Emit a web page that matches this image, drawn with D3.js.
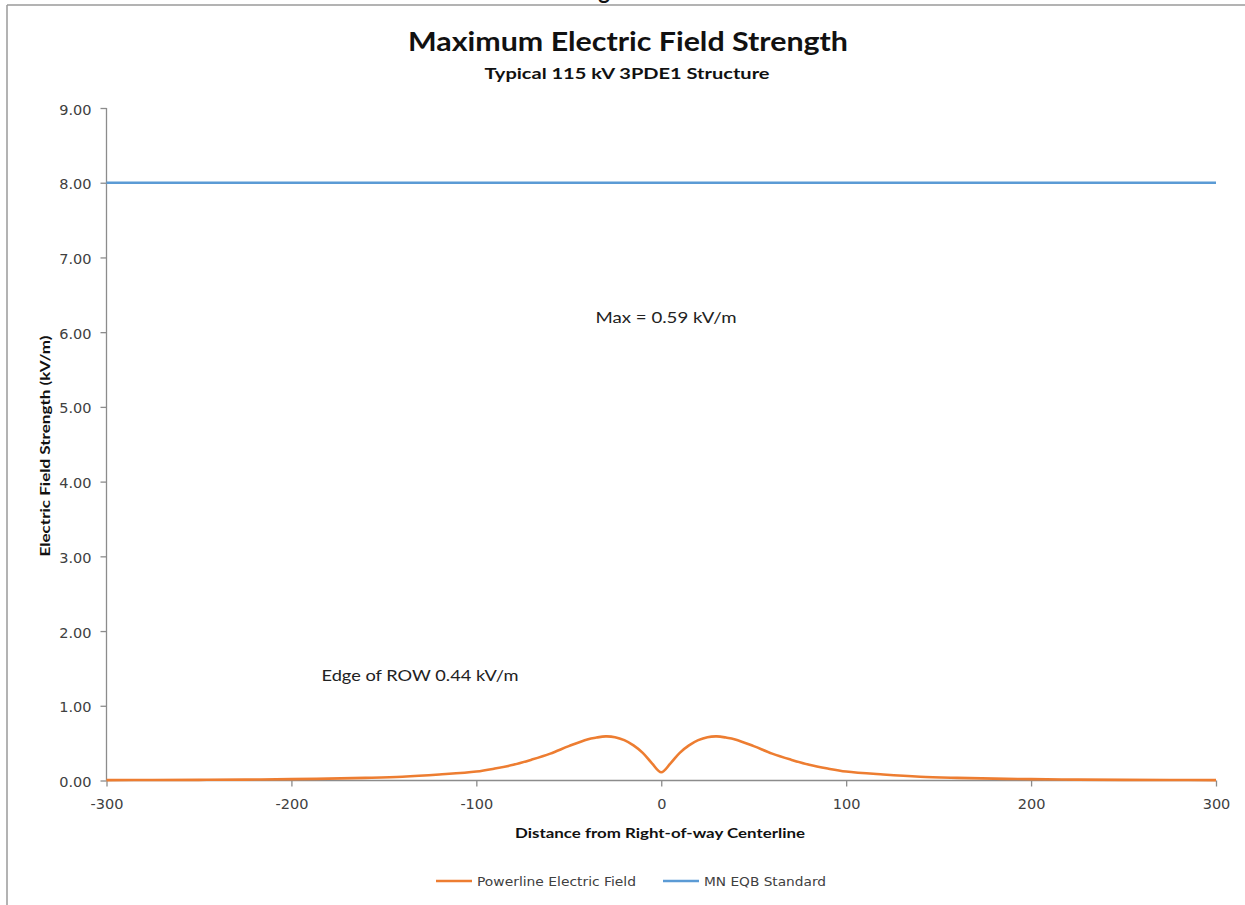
<!DOCTYPE html>
<html>
<head>
<meta charset="utf-8">
<script src="https://cdn.jsdelivr.net/npm/d3@7"></script>
<style>
  html, body { margin: 0; padding: 0; background: #fff; }
  svg { display: block; }
</style>
</head>
<body>
<svg id="chart" width="1245" height="905"></svg>
<script>
// ---------------- DATA ----------------
const distances = [-300, -275, -250, -225, -200, -180, -160, -140, -120, -100, -90, -80, -70, -60, -50, -40, -35, -30, -25, -20, -15, -10, -5, 0,
                   5, 10, 15, 20, 25, 30, 35, 40, 50, 60, 70, 80, 90, 100, 120, 140, 160, 180, 200, 225, 250, 275, 300];
const fieldValues = [0.005, 0.007, 0.009, 0.012, 0.018, 0.025, 0.035, 0.05, 0.08, 0.12, 0.16, 0.21, 0.28, 0.36, 0.46, 0.55, 0.575, 0.59, 0.58, 0.54, 0.47, 0.37, 0.23, 0.11,
                     0.23, 0.37, 0.47, 0.54, 0.58, 0.59, 0.575, 0.55, 0.46, 0.36, 0.28, 0.21, 0.16, 0.12, 0.08, 0.05, 0.035, 0.025, 0.018, 0.012, 0.009, 0.007, 0.005];
const standardDistances = [-300, 300];
const standardValues = [8, 8];
const xTicks = [-300, -200, -100, 0, 100, 200, 300];
const yTicks = [0, 1, 2, 3, 4, 5, 6, 7, 8, 9];
const seriesNames = ["Powerline Electric Field", "MN EQB Standard"];
const titleText = "Maximum Electric Field Strength";
const subtitleText = "Typical 115 kV 3PDE1 Structure";
const xAxisTitle = "Distance from Right-of-way Centerline";
const yAxisTitle = "Electric Field Strength (kV/m)";
const annotations = [
  { text: "Max = 0.59 kV/m" },
  { text: "Edge of ROW 0.44 kV/m" }
];

// ---------------- LAYOUT ----------------
const svg = d3.select("#chart");
const orange = "#ed7d31", blue = "#5b9bd5", axisGray = "#8c8c8c", textGray = "#404040";
const tickFont = "'DejaVu Sans', Verdana, sans-serif";
const titleFont = "Lato, 'Open Sans', sans-serif";

const x = d3.scaleLinear().domain([-300, 300]).range([106.5, 1216]);
const y = d3.scaleLinear().domain([0, 9]).range([780.5, 108]);

// outer frame lines (top and left)
svg.append("line").attr("x1", 7).attr("x2", 1245).attr("y1", 5).attr("y2", 5)
  .attr("stroke", "#9a9a9a").attr("stroke-width", 1.5);
svg.append("line").attr("x1", 7).attr("x2", 7).attr("y1", 5).attr("y2", 905)
  .attr("stroke", "#9a9a9a").attr("stroke-width", 1.5);

// clipped fragment of text above frame (as in the reference)
svg.append("text").attr("x", 604).attr("y", -1).attr("text-anchor", "middle")
  .attr("font-family", titleFont).attr("font-weight", "bold").attr("font-size", 22)
  .attr("fill", "#111").text("g");

// titles
svg.append("text").attr("x", 628).attr("y", 51).attr("text-anchor", "middle")
  .attr("font-family", titleFont).attr("font-weight", "bold").attr("font-size", 27)
  .attr("fill", "#111").attr("textLength", 440).attr("lengthAdjust", "spacingAndGlyphs")
  .text(titleText);
svg.append("text").attr("x", 627).attr("y", 79).attr("text-anchor", "middle")
  .attr("font-family", titleFont).attr("font-weight", "bold").attr("font-size", 16)
  .attr("fill", "#111").attr("textLength", 285).attr("lengthAdjust", "spacingAndGlyphs")
  .text(subtitleText);

// axes
const yAxis = d3.axisLeft(y).tickValues(yTicks).tickFormat(d3.format(".2f")).tickSize(6).tickPadding(9);
const gy = svg.append("g").attr("transform", `translate(${x(-300)},0)`).call(yAxis);
const xAxis = d3.axisBottom(x).tickValues(xTicks).tickFormat(d => String(d)).tickSize(6).tickPadding(12);
const gx = svg.append("g").attr("transform", `translate(0,${y(0)})`).call(xAxis);
[gx, gy].forEach(g => {
  g.select(".domain").attr("stroke", axisGray).attr("stroke-width", 1.3);
  g.selectAll(".tick line").attr("stroke", axisGray).attr("stroke-width", 1.3);
  g.selectAll(".tick text").attr("fill", textGray).attr("font-family", tickFont).attr("font-size", 14.5);
});
gy.select(".domain").attr("d", `M0,${y(9)}V${y(0)}`);
gx.select(".domain").attr("d", `M${x(-300)},0H${x(300)}`);
gy.selectAll(".tick text").attr("dy", "0.42em");

// axis titles
svg.append("text").attr("x", 660).attr("y", 838).attr("text-anchor", "middle")
  .attr("font-family", titleFont).attr("font-weight", "bold").attr("font-size", 14)
  .attr("fill", "#111").attr("textLength", 290).attr("lengthAdjust", "spacingAndGlyphs")
  .text(xAxisTitle);
svg.append("text").attr("transform", "translate(50,446) rotate(-90)").attr("text-anchor", "middle")
  .attr("font-family", titleFont).attr("font-weight", "bold").attr("font-size", 14)
  .attr("fill", "#111").attr("textLength", 221).attr("lengthAdjust", "spacingAndGlyphs")
  .text(yAxisTitle);

// series
const standardLine = d3.line().x(d => x(d[0])).y(d => y(d[1]));
const standardData = d3.zip(standardDistances, standardValues);
svg.append("path").datum(standardData).attr("d", standardLine)
  .attr("fill", "none").attr("stroke", blue).attr("stroke-width", 2.6);
const fieldLine = d3.line().x(d => x(d[0])).y(d => y(d[1])).curve(d3.curveCatmullRom.alpha(0.5));
const fieldData = d3.zip(distances, fieldValues);
svg.append("path").datum(fieldData).attr("d", fieldLine)
  .attr("fill", "none").attr("stroke", orange).attr("stroke-width", 2.6)
  .attr("stroke-linejoin", "round");

// annotations
const annPos = [{ x: 666, y: 323, len: 141 }, { x: 420, y: 681, len: 197 }];
annotations.forEach((a, i) => {
  svg.append("text").attr("x", annPos[i].x).attr("y", annPos[i].y).attr("text-anchor", "middle")
    .attr("font-family", titleFont).attr("font-size", 16).attr("fill", "#222")
    .attr("textLength", annPos[i].len).attr("lengthAdjust", "spacingAndGlyphs")
    .text(a.text);
});

// legend
const legendItems = [
  { name: seriesNames[0], color: orange, x1: 436, x2: 472, tx: 477, len: 159 },
  { name: seriesNames[1], color: blue, x1: 663, x2: 699, tx: 704, len: 122 }
];
legendItems.forEach(it => {
  svg.append("line").attr("x1", it.x1).attr("x2", it.x2).attr("y1", 881).attr("y2", 881)
    .attr("stroke", it.color).attr("stroke-width", 2.6);
  svg.append("text").attr("x", it.tx).attr("y", 886).attr("font-family", tickFont)
    .attr("font-size", 13).attr("fill", textGray)
    .attr("textLength", it.len).attr("lengthAdjust", "spacingAndGlyphs").text(it.name);
});
</script>
</body>
</html>
